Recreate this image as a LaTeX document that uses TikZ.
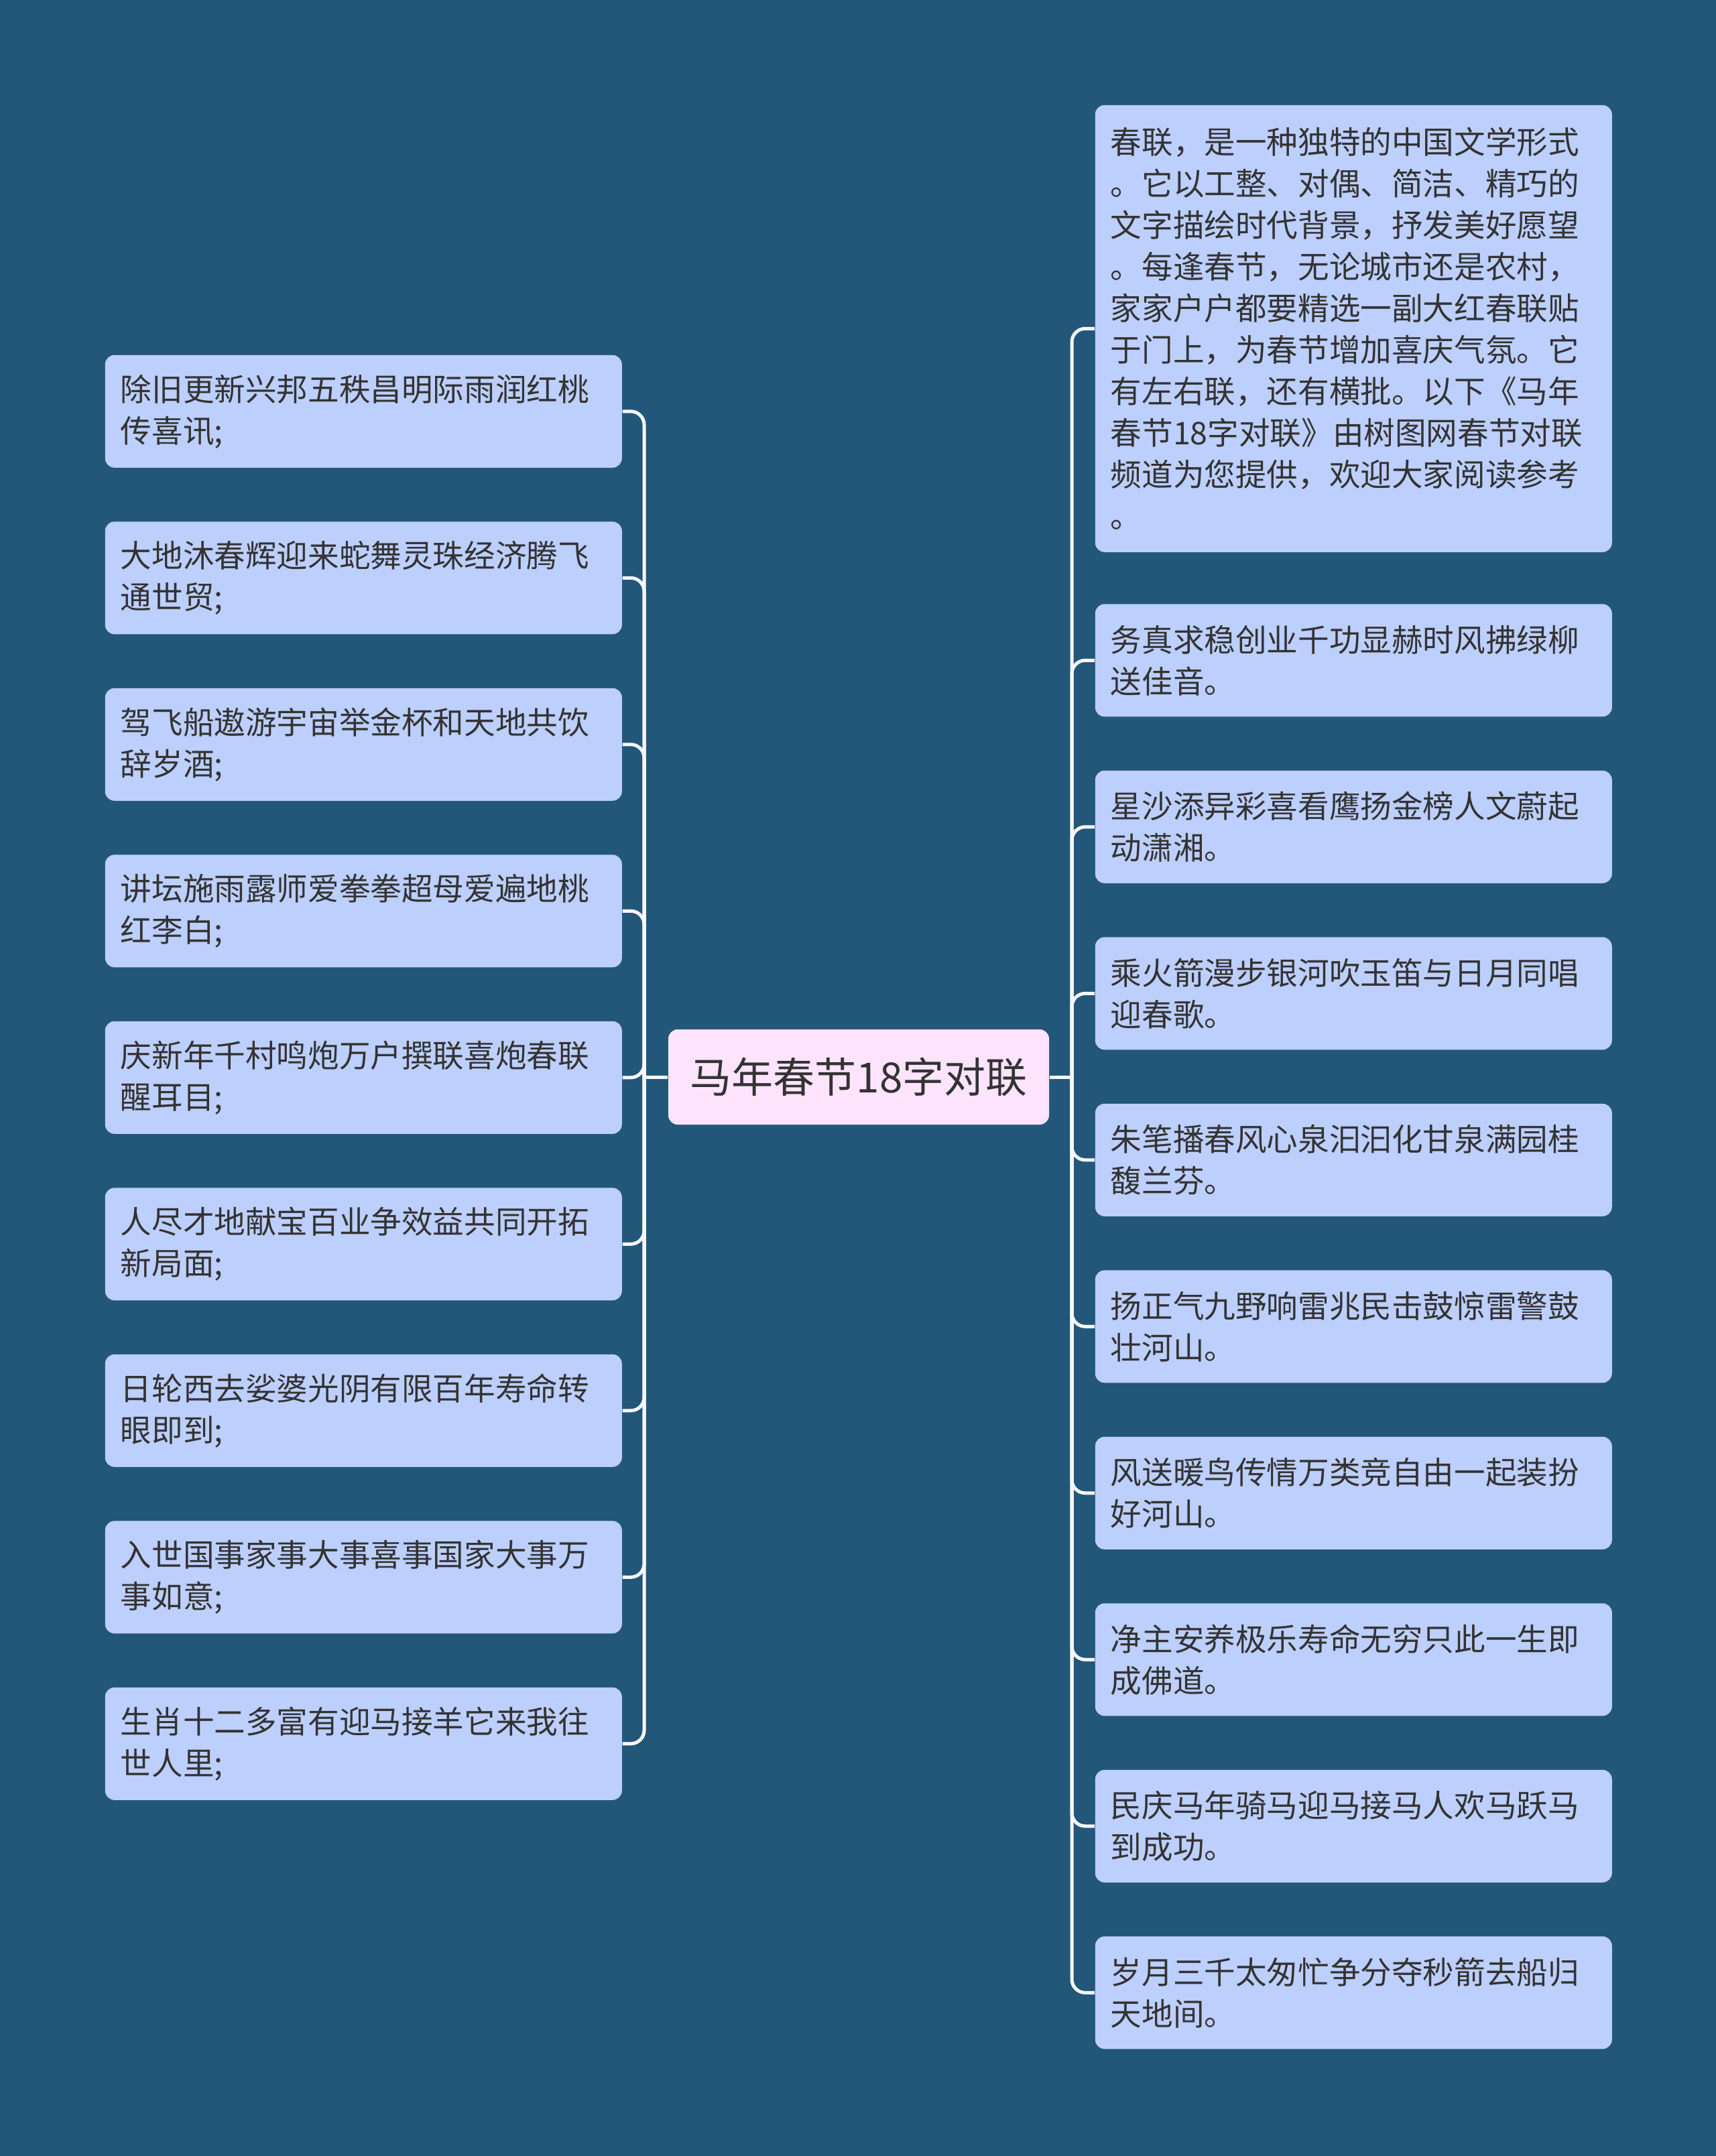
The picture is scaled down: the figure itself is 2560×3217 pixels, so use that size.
\documentclass[tikz,border=0pt]{standalone}
\usepackage{fontspec}
\newfontfamily\cjk{Noto Sans CJK SC}
\definecolor{bgc}{RGB}{35,87,121}
\definecolor{leaffill}{RGB}{189,207,252}
\definecolor{rootfill}{RGB}{253,228,252}
\definecolor{txt}{RGB}{51,51,51}
\definecolor{linec}{RGB}{248,248,255}
\begin{document}
\begin{tikzpicture}[x=0.25pt,y=-0.25pt,
  leaf/.style={draw=none,fill=leaffill,rounded corners=3.5pt,anchor=north west,
    text width=181.25pt,inner xsep=5.75pt,inner ysep=4pt,align=left,
    minimum height=42pt,text=txt,font=\cjk\fontsize{11.65pt}{15.5pt}\selectfont},
  root/.style={draw=none,fill=rootfill,rounded corners=3.5pt,minimum width=142pt,
    minimum height=35.5pt,text=txt,inner sep=0pt,font=\cjk\fontsize{15.5pt}{18pt}\selectfont},
  conn/.style={draw=linec,line width=1.25pt,rounded corners=5pt}]
\useasboundingbox[fill=bgc] (0,0) rectangle (2560,3217);
\node[root] (c) at (1281,1607) {马年春节18字对联};
\coordinate (lj) at (961,1607);
\coordinate (rj) at (1599,1607);
% left nodes
\node[leaf] (L1) at (156,529) {除旧更新兴邦五秩昌明际雨润红桃\\传喜讯;};
\node[leaf] (L2) at (156,777.5) {大地沐春辉迎来蛇舞灵珠经济腾飞\\通世贸;};
\node[leaf] (L3) at (156,1026) {驾飞船遨游宇宙举金杯和天地共饮\\辞岁酒;};
\node[leaf] (L4) at (156,1274.5) {讲坛施雨露师爱拳拳超母爱遍地桃\\红李白;};
\node[leaf] (L5) at (156,1523) {庆新年千村鸣炮万户撰联喜炮春联\\醒耳目;};
\node[leaf] (L6) at (156,1771.5) {人尽才地献宝百业争效益共同开拓\\新局面;};
\node[leaf] (L7) at (156,2020) {日轮西去娑婆光阴有限百年寿命转\\眼即到;};
\node[leaf] (L8) at (156,2268.5) {入世国事家事大事喜事国家大事万\\事如意;};
\node[leaf] (L9) at (156,2517) {生肖十二多富有迎马接羊它来我往\\世人里;};
% right nodes
\node[leaf,minimum height=166.75pt] (R1) at (1633,156) {春联，是一种独特的中国文学形式\\。它以工整、对偶、简洁、精巧的\\文字描绘时代背景，抒发美好愿望\\。每逢春节，无论城市还是农村，\\家家户户都要精选一副大红春联贴\\于门上，为春节增加喜庆气氛。它\\有左右联，还有横批。以下《马年\\春节18字对联》由树图网春节对联\\频道为您提供，欢迎大家阅读参考\\。};
\node[leaf] (R2) at (1633,900.5) {务真求稳创业千功显赫时风拂绿柳\\送佳音。};
\node[leaf] (R3) at (1633,1149) {星沙添异彩喜看鹰扬金榜人文蔚起\\动潇湘。};
\node[leaf] (R4) at (1633,1397.5) {乘火箭漫步银河吹玉笛与日月同唱\\迎春歌。};
\node[leaf] (R5) at (1633,1646) {朱笔播春风心泉汩汩化甘泉满园桂\\馥兰芬。};
\node[leaf] (R6) at (1633,1894.5) {扬正气九野响雷兆民击鼓惊雷警鼓\\壮河山。};
\node[leaf] (R7) at (1633,2143) {风送暖鸟传情万类竞自由一起装扮\\好河山。};
\node[leaf] (R8) at (1633,2391.5) {净主安养极乐寿命无穷只此一生即\\成佛道。};
\node[leaf] (R9) at (1633,2640) {民庆马年骑马迎马接马人欢马跃马\\到成功。};
\node[leaf] (R10) at (1633,2888.5) {岁月三千太匆忙争分夺秒箭去船归\\天地间。};
% connectors
\draw[conn] (c.west) -- (lj);
\draw[conn] (c.east) -- (rj);
\foreach \i in {1,...,9} {\draw[conn] (lj) |- (L\i.east);}
\foreach \i in {1,...,10} {\draw[conn] (rj) |- (R\i.west);}
\end{tikzpicture}
\end{document}
